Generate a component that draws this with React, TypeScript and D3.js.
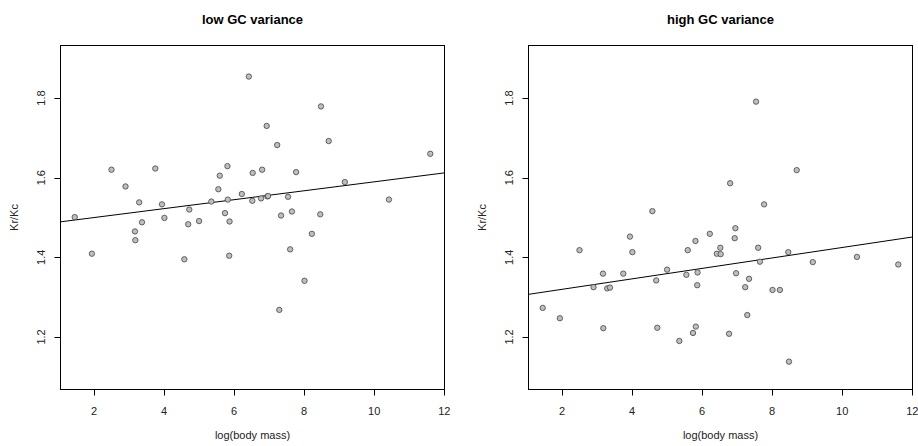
import React from "react";
import * as d3 from "d3";

// shared x values (log body mass), sorted
const logMass = [
  1.45, 1.94, 2.5, 2.9, 3.17, 3.18, 3.29, 3.37, 3.75, 3.94, 4.01, 4.58, 4.69, 4.72,
  5.0, 5.35, 5.55, 5.59, 5.74, 5.81, 5.82, 5.86, 5.87, 6.22, 6.42, 6.52, 6.53, 6.77,
  6.8, 6.93, 6.95, 6.97, 7.23, 7.29, 7.34, 7.54, 7.6, 7.65, 7.77, 8.01, 8.22, 8.46,
  8.48, 8.7, 9.16, 10.42, 11.6,
];

const lowGC = [
  1.501, 1.409, 1.62, 1.578, 1.465, 1.443, 1.538, 1.488, 1.623, 1.533, 1.499, 1.395, 1.483, 1.52,
  1.491, 1.54, 1.571, 1.605, 1.511, 1.629, 1.545, 1.404, 1.49, 1.559, 1.854, 1.542, 1.612, 1.548,
  1.62, 1.73, 1.553, 1.554, 1.682, 1.268, 1.505, 1.552, 1.42, 1.515, 1.614, 1.341, 1.459, 1.508,
  1.779, 1.692, 1.589, 1.545, 1.66,
];

const highGC = [
  1.273, 1.247, 1.418, 1.325, 1.359, 1.222, 1.322, 1.324, 1.359, 1.452, 1.413, 1.516, 1.342, 1.223,
  1.369, 1.19, 1.356, 1.418, 1.21, 1.441, 1.226, 1.33, 1.362, 1.459, 1.409, 1.424, 1.408, 1.208,
  1.586, 1.448, 1.473, 1.36, 1.325, 1.255, 1.346, 1.791, 1.424, 1.389, 1.533, 1.318, 1.318, 1.413,
  1.138, 1.619, 1.388, 1.401, 1.382,
];

// fitted line coefficients [intercept, slope]
const lowFit = [1.4774, 0.01122];
const highFit = [1.2933, 0.01314];

const titles = ["low GC variance", "high GC variance"];
const xTicks = [2, 4, 6, 8, 10, 12];
const yTicks = [1.2, 1.4, 1.6, 1.8];
const xLimData = [1.45, 11.6];
const yLimData = [1.1, 1.9];
const xLabel = "log(body mass)";
const yLabel = "Kr/Kc";

const ext = (a: number[]) => {
  const d = (a[1] - a[0]) * 0.04;
  return [a[0] - d, a[1] + d];
};

const FONT = "'Liberation Sans', Arial, Helvetica, sans-serif";

function Panel({ left, title, ys, fit }: { left: number; title: string; ys: number[]; fit: number[] }) {
  const top = 45.5;
  const w = 384;
  const h = 344;
  const x = d3.scaleLinear().domain(ext(xLimData)).range([left, left + w]);
  const y = d3.scaleLinear().domain(ext(yLimData)).range([top + h, top]);
  const [x0, x1] = x.domain();
  const line = d3.line<number>().x((d) => x(d)).y((d) => y(fit[0] + fit[1] * d));
  const clipId = "clip" + Math.round(left);
  return (
    <g>
      <defs>
        <clipPath id={clipId}>
          <rect x={left} y={top} width={w} height={h} />
        </clipPath>
      </defs>
      <text x={left + w / 2} y={24} textAnchor="middle" fontFamily={FONT} fontWeight="bold" fontSize={13}>
        {title}
      </text>
      <rect x={left} y={top} width={w} height={h} fill="none" stroke="#000" strokeWidth={1} />
      <path d={line([x0, x1]) || ""} stroke="#000" strokeWidth={1} fill="none" clipPath={`url(#${clipId})`} />
      {logMass.map((xv, i) => (
        <circle key={i} cx={x(xv)} cy={y(ys[i])} r={2.7} fill="#bebebe" stroke="#444" strokeWidth={0.8} />
      ))}
      {xTicks.map((t) => (
        <g key={t}>
          <line x1={Math.round(x(t)) + 0.5} x2={Math.round(x(t)) + 0.5} y1={top + h} y2={top + h + 6} stroke="#000" />
          <text x={x(t)} y={top + h + 25} textAnchor="middle" fontFamily={FONT} fontSize={11} fill="#222">
            {t}
          </text>
        </g>
      ))}
      {yTicks.map((t) => (
        <g key={t}>
          <line y1={Math.round(y(t)) + 0.5} y2={Math.round(y(t)) + 0.5} x1={left - 6} x2={left} stroke="#000" />
          <text
            transform={`translate(${left - 16},${y(t)}) rotate(-90)`}
            textAnchor="middle"
            fontFamily={FONT}
            fontSize={11}
            fill="#222"
          >
            {t.toFixed(1)}
          </text>
        </g>
      ))}
      <text x={left + w / 2} y={439} textAnchor="middle" fontFamily={FONT} fontSize={11} fill="#222">
        {xLabel}
      </text>
      <text
        transform={`translate(${left - 43},${top + h / 2}) rotate(-90)`}
        textAnchor="middle"
        fontFamily={FONT}
        fontSize={11}
        fill="#222"
      >
        {yLabel}
      </text>
    </g>
  );
}

export default function App() {
  return (
    <svg width={918} height={446} style={{ position: "absolute", left: 0, top: 0, background: "#fff" }}>
      <rect width={918} height={446} fill="#fff" />
      <Panel left={60.5} title={titles[0]} ys={lowGC} fit={lowFit} />
      <Panel left={528.5} title={titles[1]} ys={highGC} fit={highFit} />
    </svg>
  );
}
